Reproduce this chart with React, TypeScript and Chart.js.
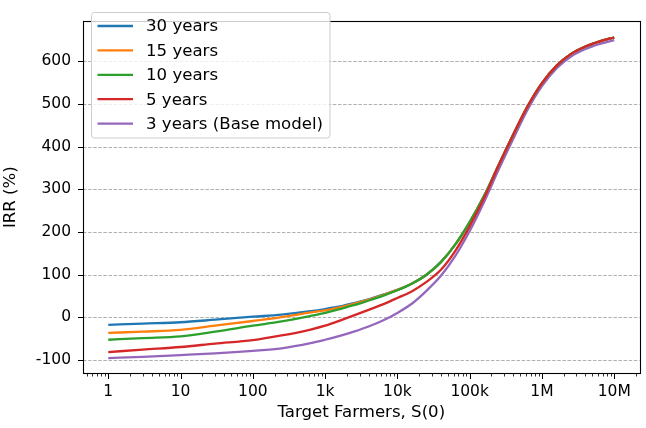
import { useEffect, useRef } from "react";
import { Chart, registerables } from "chart.js";

Chart.register(...registerables);

// Target farmers S(0) sampled on a log grid
const farmers = [1, 3, 10, 30, 100, 250, 630, 1000, 1600, 2500, 4000, 6300, 10000, 16000, 25000, 40000, 63000, 100000, 160000, 250000, 400000, 630000, 1000000, 1600000, 2500000, 4000000, 6300000, 10000000];

// IRR (%) for each project horizon
const irr30 = [-18, -15, -12, -6, 1, 6, 14, 19, 25, 33, 42, 53, 64, 79, 99, 129, 170, 223, 286, 356, 428, 494, 549, 590, 617, 635, 647, 656];
const irr15 = [-37, -34, -30, -20, -9, 0, 11, 16, 23, 31, 41, 52, 64, 79, 99, 129, 170, 223, 286, 356, 428, 494, 549, 590, 617, 635, 647, 656];
const irr10 = [-53, -49, -45, -34, -20, -10, 3, 10, 19, 28, 39, 50, 63, 79, 99, 129, 170, 223, 286, 356, 428, 494, 549, 590, 617, 635, 647, 656];
const irr5 = [-82, -76, -70, -62, -54, -43, -29, -20, -8, 4, 17, 30, 45, 61, 82, 111, 155, 213, 281, 355, 428, 494, 549, 590, 617, 635, 647, 656];
const irr3 = [-96, -93, -89, -85, -79, -73, -61, -53, -44, -34, -22, -8, 10, 32, 61, 97, 143, 202, 272, 345, 418, 486, 542, 584, 611, 629, 641, 650];

const seriesLabels = ["30 years", "15 years", "10 years", "5 years", "3 years (Base model)"];
const seriesColors = ["#1f77b4", "#ff7f0e", "#2ca02c", "#d62728", "#9467bd"];
const seriesValues = [irr30, irr15, irr10, irr5, irr3];
// drawing order: purple lowest, red on top
const seriesOrder = [4, 3, 2, 1, 5];

const yTicks = [-100, 0, 100, 200, 300, 400, 500, 600];
const xMajorTicks = [1, 10, 100, 1000, 10000, 100000, 1000000, 10000000];
const xTickLabels = ["1", "10", "100", "1k", "10k", "100k", "1M", "10M"];

const xTitle = "Target Farmers, S(0)";
const yTitle = "IRR (%)";

const X_MIN = 0.447;
const X_MAX = 22400000;
const Y_MIN = -131;
const Y_MAX = 694;

const FONT = "'DejaVu Sans', sans-serif";
const TICK_SIZE = 15.5;
const LABEL_SIZE = 16.6;

function minorTicks(): number[] {
  const out: number[] = [];
  for (let k = -1; k <= 7; k++) {
    for (let m = 2; m <= 9; m++) {
      const v = m * Math.pow(10, k);
      if (v >= X_MIN && v <= X_MAX) out.push(v);
    }
  }
  return out;
}

const decorPlugin = {
  id: "decor",
  beforeDatasetsDraw(chart: any) {
    const { ctx, chartArea: a, scales } = chart;
    const y = scales.y;
    ctx.save();
    ctx.strokeStyle = "#a8a8a8";
    ctx.lineWidth = 0.9;
    ctx.setLineDash([3.5, 1.6]);
    yTicks.forEach((v) => {
      const py = Math.round(y.getPixelForValue(v)) + 0.5;
      ctx.beginPath();
      ctx.moveTo(a.left, py);
      ctx.lineTo(a.right, py);
      ctx.stroke();
    });
    ctx.restore();
  },
  afterDraw(chart: any) {
    const { ctx, chartArea: a, scales } = chart;
    const x = scales.x;
    const y = scales.y;
    ctx.save();

    // frame
    ctx.strokeStyle = "#000";
    ctx.lineWidth = 1.1;
    ctx.setLineDash([]);
    const L = Math.round(a.left) + 0.5;
    const R = Math.round(a.right) + 0.5;
    const T = Math.round(a.top) + 0.5;
    const B = Math.round(a.bottom) + 0.5;
    ctx.strokeRect(L, T, R - L, B - T);

    // y tick marks
    ctx.lineWidth = 1;
    yTicks.forEach((v) => {
      const py = Math.round(y.getPixelForValue(v)) + 0.5;
      ctx.beginPath();
      ctx.moveTo(L - 5.5, py);
      ctx.lineTo(L, py);
      ctx.stroke();
    });
    // x tick marks, major then minor
    xMajorTicks.forEach((v) => {
      const px = Math.round(x.getPixelForValue(v)) + 0.5;
      ctx.beginPath();
      ctx.moveTo(px, B);
      ctx.lineTo(px, B + 5.5);
      ctx.stroke();
    });
    ctx.lineWidth = 0.8;
    minorTicks().forEach((v) => {
      const px = Math.round(x.getPixelForValue(v)) + 0.5;
      ctx.beginPath();
      ctx.moveTo(px, B);
      ctx.lineTo(px, B + 3);
      ctx.stroke();
    });

    // axis titles
    ctx.fillStyle = "#000";
    ctx.font = `${LABEL_SIZE}px ${FONT}`;
    ctx.textAlign = "center";
    ctx.textBaseline = "middle";
    ctx.fillText(xTitle, (a.left + a.right) / 2, 413);
    ctx.save();
    ctx.translate(11, (a.top + a.bottom) / 2);
    ctx.rotate(-Math.PI / 2);
    ctx.fillText(yTitle, 0, 0);
    ctx.restore();

    // legend
    const bx = 91.5, by = 12.5, bw = 238.5, bh = 125.5, r = 3;
    ctx.beginPath();
    ctx.moveTo(bx + r, by);
    ctx.lineTo(bx + bw - r, by);
    ctx.quadraticCurveTo(bx + bw, by, bx + bw, by + r);
    ctx.lineTo(bx + bw, by + bh - r);
    ctx.quadraticCurveTo(bx + bw, by + bh, bx + bw - r, by + bh);
    ctx.lineTo(bx + r, by + bh);
    ctx.quadraticCurveTo(bx, by + bh, bx, by + bh - r);
    ctx.lineTo(bx, by + r);
    ctx.quadraticCurveTo(bx, by, bx + r, by);
    ctx.closePath();
    ctx.fillStyle = "rgba(255,255,255,0.8)";
    ctx.fill();
    ctx.strokeStyle = "#cccccc";
    ctx.lineWidth = 1;
    ctx.stroke();

    ctx.font = `${LABEL_SIZE}px ${FONT}`;
    ctx.textAlign = "left";
    ctx.textBaseline = "middle";
    seriesLabels.forEach((label, i) => {
      const cy = 26 + i * 24.4;
      ctx.strokeStyle = seriesColors[i];
      ctx.lineWidth = 2.3;
      ctx.beginPath();
      ctx.moveTo(97.5, cy);
      ctx.lineTo(133, cy);
      ctx.stroke();
      ctx.fillStyle = "#000";
      ctx.fillText(label, 146, cy + 1);
    });

    ctx.restore();
  },
};

export default function App() {
  const canvasRef = useRef<HTMLCanvasElement | null>(null);

  useEffect(() => {
    const canvas = canvasRef.current;
    if (!canvas) return;
    const chart = new Chart(canvas, {
      type: "line",
      data: {
        datasets: seriesLabels.map((label, i) => ({
          label,
          data: farmers.map((f, j) => ({ x: f, y: seriesValues[i][j] })),
          borderColor: seriesColors[i],
          backgroundColor: seriesColors[i],
          borderWidth: 2.3,
          pointRadius: 0,
          cubicInterpolationMode: "monotone" as const,
          fill: false,
          order: seriesOrder[i],
        })),
      },
      options: {
        responsive: false,
        animation: false,
        devicePixelRatio: 1,
        layout: { padding: { top: 4, right: 5, left: 0, bottom: 0 } },
        plugins: {
          legend: { display: false },
          tooltip: { enabled: false },
        },
        scales: {
          x: {
            type: "logarithmic",
            min: X_MIN,
            max: X_MAX,
            grid: { display: false, drawTicks: false },
            border: { display: false },
            afterBuildTicks: (scale: any) => {
              const all = [...xMajorTicks, ...minorTicks()].sort((p, q) => p - q);
              scale.ticks = all.map((v) => ({ value: v }));
            },
            afterFit: (scale: any) => {
              scale.height = 55;
            },
            ticks: {
              autoSkip: false,
              maxRotation: 0,
              minRotation: 0,
              padding: 10,
              color: "#000",
              font: { family: FONT, size: TICK_SIZE },
              callback: (value: any) => {
                const idx = xMajorTicks.findIndex((m) => Math.abs(m - Number(value)) / m < 1e-6);
                return idx >= 0 ? xTickLabels[idx] : "";
              },
            },
          },
          y: {
            type: "linear",
            min: Y_MIN,
            max: Y_MAX,
            grid: { display: false, drawTicks: false },
            border: { display: false },
            afterBuildTicks: (scale: any) => {
              scale.ticks = yTicks.map((v) => ({ value: v }));
            },
            afterFit: (scale: any) => {
              scale.width = 83;
            },
            ticks: {
              padding: 12,
              color: "#000",
              font: { family: FONT, size: TICK_SIZE },
              callback: (value: any) => String(value),
            },
          },
        },
      },
      plugins: [decorPlugin],
    });
    return () => chart.destroy();
  }, []);

  return (
    <div style={{ position: "fixed", left: 0, top: 0, width: 646, height: 428, background: "#fff" }}>
      <canvas ref={canvasRef} width={646} height={428} style={{ display: "block" }} />
    </div>
  );
}
